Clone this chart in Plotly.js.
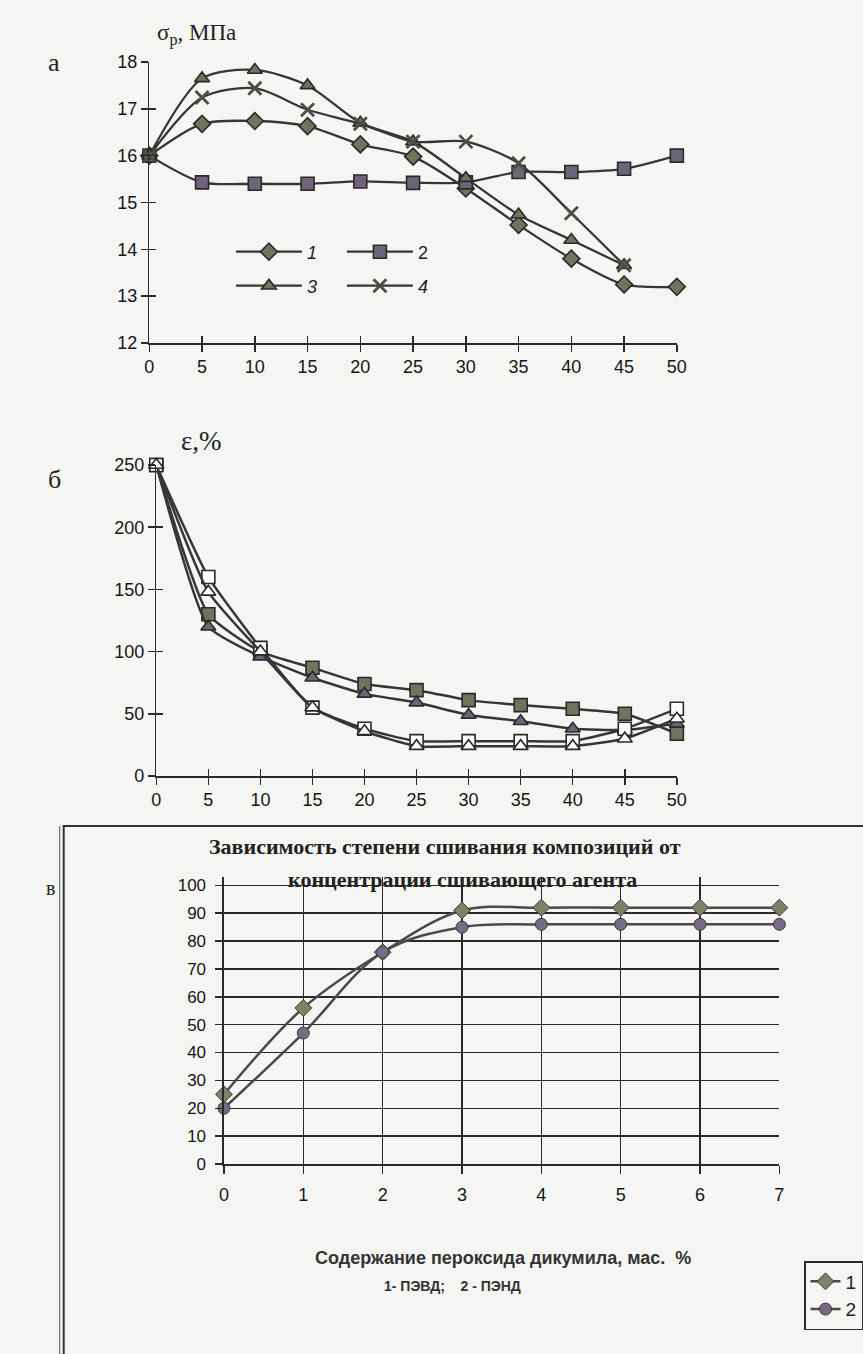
<!DOCTYPE html>
<html>
<head>
<meta charset="utf-8">
<script src="https://cdn.plot.ly/plotly-3.0.1.min.js"></script>
<style>
html,body{margin:0;padding:0;background:#f5f5f3;}
#chart{width:863px;height:1354px;}
</style>
</head>
<body>
<div id="chart"></div>
<script>
// ---------- Panel а: tensile strength, MPa ----------
const aX = [0, 5, 10, 15, 20, 25, 30, 35, 40, 45, 50];
const aX45 = [0, 5, 10, 15, 20, 25, 30, 35, 40, 45];
const aS1 = [16.0, 16.68, 16.74, 16.63, 16.24, 15.98, 15.3, 14.52, 13.8, 13.25, 13.2];
const aS2 = [16.0, 15.43, 15.4, 15.4, 15.45, 15.42, 15.43, 15.65, 15.65, 15.72, 16.0];
const aS3 = [16.0, 17.65, 17.83, 17.5, 16.7, 16.3, 15.52, 14.74, 14.2, 13.66];
const aS4 = [16.0, 17.24, 17.44, 16.98, 16.68, 16.3, 16.3, 15.84, 14.77, 13.66];
const aNames = ['<i>1</i>', '2', '<i>3</i>', '<i>4</i>'];
const aYTicks = [12, 13, 14, 15, 16, 17, 18];
const aXTicks = [0, 5, 10, 15, 20, 25, 30, 35, 40, 45, 50];

// ---------- Panel б: elongation, % ----------
const bX = [0, 5, 10, 15, 20, 25, 30, 35, 40, 45, 50];
const bOpenSq  = [250, 160, 103, 55, 38, 28, 28, 28, 28, 38, 54];
const bOpenTri = [250, 148, 100, 55, 36, 24, 24, 24, 24, 30, 46];
const bFillSq  = [250, 130, 100, 87, 74, 69, 61, 57, 54, 50, 34];
const bFillTri = [250, 120, 96, 79, 66, 59, 49, 44, 38, 37, 42];
const bYTicks = [0, 50, 100, 150, 200, 250];

// ---------- Panel в: degree of crosslinking ----------
const vX = [0, 1, 2, 3, 4, 5, 6, 7];
const vS1 = [25, 56, 76, 91, 92, 92, 92, 92];
const vS2 = [20, 47, 76, 85, 86, 86, 86, 86];
const vNames = ['1', '2'];
const vYTicks = [0, 10, 20, 30, 40, 50, 60, 70, 80, 90, 100];
const vXTicks = [0, 1, 2, 3, 4, 5, 6, 7];

const W = 863, H = 1354;
const px = v => v / W;
const py = v => 1 - v / H;

const LINE = '#363636';
const FILL = '#6f745f';
const FILL2 = '#6d6479';
const BG = '#f5f5f3';
const SANS = 'Liberation Sans, Arial, sans-serif';
const SERIF = 'Liberation Serif, Times New Roman, serif';
const TICKFONT = {family: SANS, size: 18, color: '#161616'};

function mk(symbol, fill) {
  return {symbol: symbol, size: 13, color: fill, line: {color: '#2a2a2a', width: 1.6}};
}

const traces = [
  // panel а
  {x: aX, y: aS1, name: aNames[0], mode: 'lines+markers', xaxis: 'x', yaxis: 'y', legend: 'legend',
   line: {color: LINE, width: 2.3, shape: 'spline', smoothing: 0.8}, marker: mk('diamond', FILL), cliponaxis: false},
  {x: aX, y: aS2, name: aNames[1], mode: 'lines+markers', xaxis: 'x', yaxis: 'y', legend: 'legend',
   line: {color: LINE, width: 2.3, shape: 'spline', smoothing: 0.8}, marker: mk('square', FILL2), cliponaxis: false},
  {x: aX45, y: aS3, name: aNames[2], mode: 'lines+markers', xaxis: 'x', yaxis: 'y', legend: 'legend2',
   line: {color: LINE, width: 2.3, shape: 'spline', smoothing: 0.8}, marker: mk('triangle-up', FILL), cliponaxis: false},
  {x: aX45, y: aS4, name: aNames[3], mode: 'lines+markers', xaxis: 'x', yaxis: 'y', legend: 'legend2',
   line: {color: LINE, width: 2.3, shape: 'spline', smoothing: 0.8},
   marker: {symbol: 'x-thin', size: 13, color: '#2e2e2e', line: {color: '#4a4f40', width: 2.8}}, cliponaxis: false},
  // panel б
  {x: bX, y: bFillSq, mode: 'lines+markers', xaxis: 'x2', yaxis: 'y2', showlegend: false,
   line: {color: LINE, width: 2.5, shape: 'spline', smoothing: 0.5}, marker: mk('square', FILL), cliponaxis: false},
  {x: bX, y: bFillTri, mode: 'lines+markers', xaxis: 'x2', yaxis: 'y2', showlegend: false,
   line: {color: LINE, width: 2.5, shape: 'spline', smoothing: 0.5}, marker: mk('triangle-up', FILL2), cliponaxis: false},
  {x: bX, y: bOpenSq, mode: 'lines+markers', xaxis: 'x2', yaxis: 'y2', showlegend: false,
   line: {color: LINE, width: 2.5, shape: 'spline', smoothing: 0.5}, marker: mk('square', '#ffffff'), cliponaxis: false},
  {x: bX, y: bOpenTri, mode: 'lines+markers', xaxis: 'x2', yaxis: 'y2', showlegend: false,
   line: {color: LINE, width: 2.5, shape: 'spline', smoothing: 0.5}, marker: mk('triangle-up', '#ffffff'), cliponaxis: false},
  // panel в
  {x: vX, y: vS1, name: vNames[0], mode: 'lines+markers', xaxis: 'x3', yaxis: 'y3', legend: 'legend3',
   line: {color: '#4a4a4a', width: 2.5, shape: 'spline', smoothing: 1}, marker: {symbol: 'diamond', size: 13, color: '#7b8266', line: {color: '#3a3a3a', width: 1}}, cliponaxis: false},
  {x: vX, y: vS2, name: vNames[1], mode: 'lines+markers', xaxis: 'x3', yaxis: 'y3', legend: 'legend3',
   line: {color: '#4a4a4a', width: 2.5, shape: 'spline', smoothing: 1}, marker: {symbol: 'circle', size: 12, color: '#786a86', line: {color: '#3a3a3a', width: 1}}, cliponaxis: false},
  // empty helpers so overlay axes get drawn
  {x: [], y: [], xaxis: 'x4', yaxis: 'y4', showlegend: false, hoverinfo: 'skip'},
  {x: [], y: [], xaxis: 'x5', yaxis: 'y5', showlegend: false, hoverinfo: 'skip'},
  {x: [], y: [], xaxis: 'x6', yaxis: 'y3', showlegend: false, hoverinfo: 'skip'}
];

const axCommon = {showgrid: false, zeroline: false, showline: true, linecolor: '#2a2a2a', linewidth: 1.5,
  ticks: 'outside', ticklen: 7, tickwidth: 1.5, tickcolor: '#2a2a2a', tickfont: TICKFONT, fixedrange: true};
const axOverlay = {showgrid: false, zeroline: false, showline: false, ticks: 'inside', ticklen: 7, tickwidth: 1.5,
  tickcolor: '#2a2a2a', showticklabels: false, fixedrange: true};

const aXdom = [px(150), px(680)], aYdom = [py(343), py(62)];
const bXdom = [px(157), px(680)], bYdom = [py(776), py(465)];
const vXdom = [px(225), px(783)], vYdom = [py(1164), py(877)];

const legFontA = {family: SANS, size: 18, color: '#1e1e1e'};

const layout = {
  width: W, height: H,
  margin: {l: 0, r: 0, t: 0, b: 0},
  paper_bgcolor: BG, plot_bgcolor: 'rgba(0,0,0,0)',
  showlegend: true,
  font: {family: SANS, color: '#222'},
  xaxis: Object.assign({}, axCommon, {domain: aXdom, anchor: 'y', range: [0, 50], tickvals: aXTicks}),
  yaxis: Object.assign({}, axCommon, {domain: aYdom, anchor: 'x', range: [12, 18], tickvals: aYTicks}),
  xaxis4: Object.assign({}, axOverlay, {overlaying: 'x', anchor: 'y', range: [0, 50], tickvals: aXTicks}),
  yaxis4: Object.assign({}, axOverlay, {overlaying: 'y', anchor: 'x', range: [12, 18], tickvals: aYTicks}),
  xaxis2: Object.assign({}, axCommon, {domain: bXdom, anchor: 'y2', range: [0, 50], tickvals: aXTicks}),
  yaxis2: Object.assign({}, axCommon, {domain: bYdom, anchor: 'x2', range: [0, 250], tickvals: bYTicks}),
  xaxis5: Object.assign({}, axOverlay, {overlaying: 'x2', anchor: 'y2', range: [0, 50], tickvals: aXTicks}),
  yaxis5: Object.assign({}, axOverlay, {overlaying: 'y2', anchor: 'x2', range: [0, 250], tickvals: bYTicks}),
  xaxis3: Object.assign({}, axCommon, {domain: vXdom, anchor: 'y3', range: [0, 7], tickvals: vXTicks, ticklen: 8,
    ticklabelstandoff: 6, tickfont: Object.assign({}, TICKFONT, {size: 18})}),
  yaxis3: Object.assign({}, axCommon, {domain: vYdom, anchor: 'x3', range: [0, 103], tickvals: vYTicks, ticklen: 7,
    showgrid: true, gridcolor: '#2a2a2a', gridwidth: 1.5, ticklabelstandoff: 6, tickfont: Object.assign({}, TICKFONT, {size: 17})}),
  xaxis6: {overlaying: 'x3', anchor: 'y3', range: [0, 7], tickvals: [1, 2, 3, 4, 5, 6], showgrid: true,
    gridcolor: '#2a2a2a', gridwidth: 1.5, showticklabels: false, ticks: '', showline: false, zeroline: false, fixedrange: true},
  legend: {x: px(232), y: py(252), xanchor: 'left', yanchor: 'middle', orientation: 'h', entrywidth: 30,
    bgcolor: 'rgba(0,0,0,0)', font: legFontA, itemwidth: 66, tracegroupgap: 0},
  legend2: {x: px(232), y: py(286), xanchor: 'left', yanchor: 'middle', orientation: 'h', entrywidth: 30,
    bgcolor: 'rgba(0,0,0,0)', font: legFontA, itemwidth: 66, tracegroupgap: 0},
  legend3: {x: px(808), y: py(1261), xanchor: 'left', yanchor: 'top', orientation: 'v',
    bgcolor: BG, bordercolor: '#2a2a2a', borderwidth: 1.5,
    font: {family: SANS, size: 19, color: '#222'}, itemwidth: 30, tracegroupgap: 2},
  shapes: [
    {type: 'rect', xref: 'paper', yref: 'paper', x0: px(64), x1: px(875), y0: py(1370), y1: py(826),
     line: {color: '#333', width: 2}, fillcolor: 'rgba(0,0,0,0)', layer: 'below'},
    {type: 'line', xref: 'paper', yref: 'paper', x0: px(60), x1: px(60), y0: py(1354), y1: py(826),
     line: {color: '#555', width: 1}}
  ],
  annotations: [
    {text: 'а', x: px(46), y: py(46), xref: 'paper', yref: 'paper', showarrow: false,
     font: {family: SERIF, size: 26, color: '#222'}},
    {text: 'σ<sub>р</sub>, МПа', x: px(156), y: py(18), xref: 'paper', yref: 'paper', xanchor: 'left', showarrow: false,
     font: {family: SERIF, size: 23, color: '#222'}},
    {text: 'б', x: px(46), y: py(480), xref: 'paper', yref: 'paper', showarrow: false,
     font: {family: SERIF, size: 26, color: '#222'}},
    {text: 'ε,%', x: px(180), y: py(424), xref: 'paper', yref: 'paper', xanchor: 'left', showarrow: false,
     font: {family: SERIF, size: 27, color: '#222'}},
    {text: 'в', x: px(44), y: py(888), xref: 'paper', yref: 'paper', showarrow: false,
     font: {family: SERIF, size: 20, color: '#222'}},
    {text: '<b>Зависимость степени сшивания композиций от</b>', x: px(447), y: py(846), xref: 'paper', yref: 'paper', showarrow: false,
     font: {family: SERIF, size: 22, color: '#222'}},
    {text: '<b>концентрации сшивающего агента</b>', x: px(465), y: py(879), xref: 'paper', yref: 'paper', showarrow: false,
     font: {family: SERIF, size: 22, color: '#222'}},
    {text: '<b>Содержание пероксида дикумила, мас.  %</b>', x: px(505), y: py(1270), xref: 'paper', yref: 'paper', showarrow: false,
     font: {family: SANS, size: 18, color: '#333'}},
    {text: '<b>1- ПЭВД;    2 - ПЭНД</b>', x: px(455), y: py(1296), xref: 'paper', yref: 'paper', showarrow: false,
     font: {family: SANS, size: 14, color: '#333'}}
  ]
};

Plotly.newPlot('chart', traces, layout, {staticPlot: true, displayModeBar: false});
</script>
</body>
</html>
